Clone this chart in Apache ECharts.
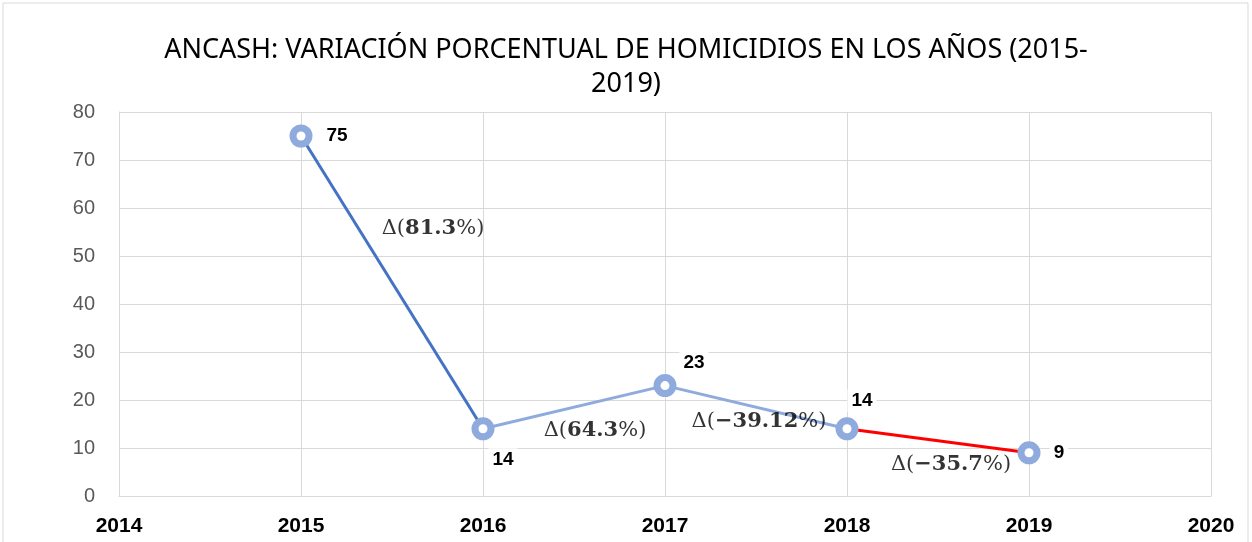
<!DOCTYPE html>
<html>
<head>
<meta charset="utf-8">
<script src="https://cdn.jsdelivr.net/npm/echarts@6/dist/echarts.min.js"></script>
<style>
  html, body { margin: 0; padding: 0; background: #fff; }
  #chart { width: 1252px; height: 542px; }
</style>
</head>
<body>
<div id="chart"></div>
<script>
// años y homicidios
const years = [2015, 2016, 2017, 2018, 2019];
const homicides = [75, 14, 23, 14, 9];
// variación porcentual entre años consecutivos (texto del gráfico)
const deltas = ['81.3', '64.3', '\u221239.12', '\u221235.7'];
const segmentColors = ['#4472C4', '#8FAADC', '#8FAADC', '#FF0000'];

const chart = echarts.init(document.getElementById('chart'));

// un tramo de línea por cada par de años
const segments = [];
for (let i = 0; i < years.length - 1; i++) {
  segments.push({
    type: 'line',
    data: [[years[i], homicides[i]], [years[i + 1], homicides[i + 1]]],
    symbol: 'none',
    lineStyle: { color: segmentColors[i], width: 3 },
    z: 2
  });
}

// desplazamiento de cada etiqueta
const valueOffsets = [[36, 0], [20, 31], [29, -23], [15, -28], [30, 0]];
const deltaOffsets = [[41, -54], [21, 23], [3, 14], [13, 24]];

const points = years.map((y, i) => [y, homicides[i]]);

const pointData = points.map((p, i) => ({
  value: p,
  label: { offset: valueOffsets[i] }
}));

const deltaData = deltas.map((d, i) => ({
  value: [(years[i] + years[i + 1]) / 2, (homicides[i] + homicides[i + 1]) / 2],
  label: {
    offset: deltaOffsets[i],
    formatter: '{n|\u0394(}{b|' + d + '}{n|%)}'
  }
}));

const option = {
  animation: false,
  title: {
    text: 'ANCASH: VARIACIÓN PORCENTUAL DE HOMICIDIOS EN LOS AÑOS (2015-\n2019)',
    left: 'center',
    top: 28,
    textStyle: {
      fontFamily: 'Noto Sans',
      fontWeight: 'normal',
      fontSize: 27,
      color: '#000',
      lineHeight: 34
    }
  },
  graphic: [{
    type: 'rect',
    shape: { x: 3, y: 3, width: 1245, height: 560 },
    style: { fill: 'none', stroke: '#d9d9d9', lineWidth: 1 },
    silent: true
  }],
  grid: { left: 119, right: 41, top: 112, height: 384 },
  xAxis: {
    type: 'value',
    min: 2014,
    max: 2020,
    interval: 1,
    axisLine: { show: true, lineStyle: { color: '#d9d9d9' } },
    axisTick: { show: false },
    splitLine: { show: true, lineStyle: { color: '#d9d9d9' } },
    axisLabel: {
      color: '#000',
      fontWeight: 'bold',
      fontSize: 21,
      fontFamily: 'Liberation Sans',
      margin: 20,
      formatter: v => String(v)
    }
  },
  yAxis: {
    type: 'value',
    min: 0,
    max: 80,
    interval: 10,
    axisLine: { show: true, lineStyle: { color: '#d9d9d9' } },
    axisTick: { show: false },
    splitLine: { show: true, lineStyle: { color: '#d9d9d9' } },
    axisLabel: {
      color: '#595959',
      fontSize: 20,
      fontFamily: 'Liberation Sans',
      margin: 24
    }
  },
  series: segments.concat([
    // anillo: círculo exterior azul claro
    {
      type: 'scatter',
      data: points,
      symbol: 'circle',
      symbolSize: 23,
      itemStyle: { color: '#8FAADC', opacity: 1 },
      z: 3
    },
    // centro blanco del anillo + etiqueta de valor
    {
      type: 'scatter',
      data: pointData,
      symbol: 'circle',
      symbolSize: 9,
      itemStyle: { color: '#fff', opacity: 1 },
      z: 4,
      label: {
        show: true,
        position: 'inside',
        formatter: p => p.value[1],
        color: '#000',
        fontWeight: 'bold',
        fontSize: 19,
        fontFamily: 'Liberation Sans',
        backgroundColor: '#fff',
        padding: [2, 4]
      }
    },
    {
      type: 'scatter',
      data: deltaData,
      symbol: 'circle',
      symbolSize: 1,
      itemStyle: { color: 'transparent' },
      silent: true,
      z: 5,
      label: {
        show: true,
        position: 'inside',
        color: '#000',
        rich: {
          n: { fontFamily: 'DejaVu Serif', fontSize: 21, color: '#000' },
          b: { fontFamily: 'DejaVu Serif', fontSize: 21, fontWeight: 'bold', color: '#000' }
        }
      }
    }
  ])
};

chart.setOption(option);
</script>
</body>
</html>
